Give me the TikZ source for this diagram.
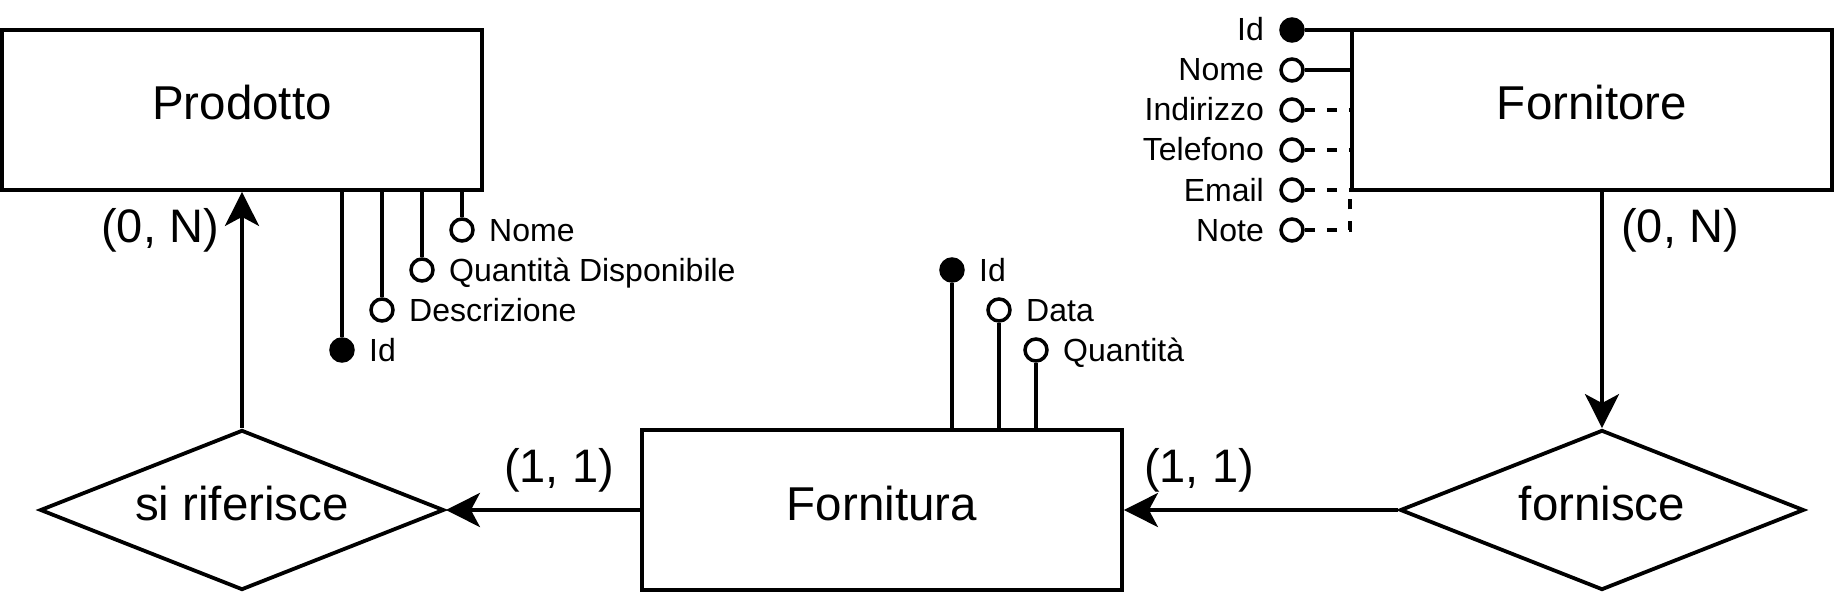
\documentclass[tikz,border=0pt]{standalone}
\usepackage{fontspec}
\setmainfont{Liberation Sans}
\usetikzlibrary{shapes.geometric,arrows.meta,calc}
\newcommand\fbig{\fontsize{47.5pt}{57pt}\selectfont}
\newcommand\fcard{\fontsize{47pt}{56pt}\selectfont}
\newcommand\fsml{\fontsize{32pt}{38pt}\selectfont}
\tikzset{
  ent/.style={draw, line width=3.8pt, minimum width=480pt, minimum height=160pt,
    inner sep=0pt, font=\fbig, text height=30pt, text depth=10pt},
  rel/.style={draw, diamond, aspect=2.5, line width=3.8pt, minimum width=404pt,
    minimum height=160pt, inner sep=0pt, font=\fbig, text height=31pt, text depth=11pt},
  attr/.style={circle, draw, line width=3.5pt, fill=white, minimum size=22pt, inner sep=0pt},
  keyattr/.style={attr, fill=black},
  lbl/.style={font=\fsml, inner sep=0pt},
  card/.style={font=\fcard, inner sep=0pt, anchor=base},
  conn/.style={line width=3.8pt},
  arr/.style={conn, -{Stealth[length=34pt, width=34pt, inset=9pt]}},
  opt/.style={conn, dash pattern=on 10pt off 12pt}
}
\begin{document}
\begin{tikzpicture}[x=1pt, y=-1pt]
\useasboundingbox (0,0) rectangle (1836,596);

% entities and relationships
\node[ent] (prod) at (242,110) {Prodotto};
\node[ent] (forn) at (1592,110) {Fornitore};
\node[ent] (fura) at (882,510) {Fornitura};
\node[rel] (sr) at (242,510) {si riferisce};
\node[rel] (fs) at (1602,510) {fornisce};

% connectors
\draw[arr] (sr.north) -- (prod.south);
\draw[arr] (fura.west) -- (sr.east);
\draw[arr] (fs.west) -- (fura.east);
\draw[arr] (forn.south -| fs.north) -- (fs.north);

% cardinalities
\node[card] (c1) at (160,242) {(0, N)};
\node[card] (c2) at (1680,243) {(0, N)};
\node[card] (c3) at (559,482) {(1, 1)};
\node[card] (c4) at (1199,482) {(1, 1)};

% Prodotto attributes
\node[keyattr] (pid) at (342,350) {};
\node[attr] (pdesc) at (382,310) {};
\node[attr] (pqta) at (422,270) {};
\node[attr] (pnome) at (462,230) {};
\foreach \n in {pid,pdesc,pqta,pnome}
  \draw[conn] (\n.north) -- (\n |- prod.south);
\node[lbl, anchor=base west] (lpid) at ($(pid)+(27,11)$) {Id};
\node[lbl, anchor=base west] (lpdesc) at ($(pdesc)+(27,11)$) {Descrizione};
\node[lbl, anchor=base west] (lpqta) at ($(pqta)+(27,11)$) {Quantità Disponibile};
\node[lbl, anchor=base west] (lpnome) at ($(pnome)+(27,11)$) {Nome};

% Fornitura attributes
\node[keyattr] (fid) at (952,270) {};
\node[attr] (fdata) at (999,310) {};
\node[attr] (fqta) at (1036,350) {};
\foreach \n in {fid,fdata,fqta}
  \draw[conn] (\n.south) -- (\n |- fura.north);
\node[lbl, anchor=base west] (lfid) at ($(fid)+(27,11)$) {Id};
\node[lbl, anchor=base west] (lfdata) at ($(fdata)+(27,11)$) {Data};
\node[lbl, anchor=base west] (lfqta) at ($(fqta)+(27,11)$) {Quantità};

% Fornitore attributes
\node[keyattr] (oid) at (1292,30) {};
\node[attr] (onome) at (1292,70) {};
\node[attr] (oind) at (1292,110) {};
\node[attr] (otel) at (1292,150) {};
\node[attr] (omail) at (1292,190) {};
\node[attr] (onote) at (1292,230) {};
\draw[conn] (oid.east) -- (oid -| forn.west);
\draw[conn] (onome.east) -- (onome -| forn.west);
\draw[opt] (oind.east) -- (oind -| forn.west);
\draw[opt] (otel.east) -- (otel -| forn.west);
\draw[opt] (omail.east) -- (omail -| forn.west);
\draw[opt] (onote.east) -- (onote -| forn.west) -- (forn.west |- forn.south);
\node[lbl, anchor=base east] (loid) at ($(oid)+(-28,11)$) {Id};
\node[lbl, anchor=base east] (lonome) at ($(onome)+(-28,11)$) {Nome};
\node[lbl, anchor=base east] (loind) at ($(oind)+(-28,11)$) {Indirizzo};
\node[lbl, anchor=base east] (lotel) at ($(otel)+(-28,11)$) {Telefono};
\node[lbl, anchor=base east] (lomail) at ($(omail)+(-28,11)$) {Email};
\node[lbl, anchor=base east] (lonote) at ($(onote)+(-28,11)$) {Note};
\end{tikzpicture}
\end{document}
